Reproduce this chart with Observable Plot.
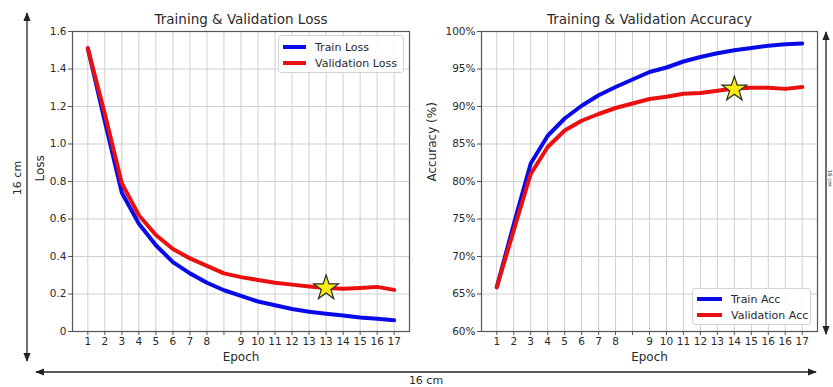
<!DOCTYPE html>
<html><head><meta charset="utf-8">
<script src="https://cdn.jsdelivr.net/npm/d3@7"></script>
<script src="https://cdn.jsdelivr.net/npm/@observablehq/plot@0.6"></script>
<style>
html,body{margin:0;padding:0;background:#fff;}
#wrap{position:relative;width:833px;height:387px;overflow:hidden;font-family:"DejaVu Sans",sans-serif;color:#2a2a2a;background:#fff;}
.plot{position:absolute;top:0;}
.legend{position:absolute;box-sizing:border-box;border:1px solid #d4d4d4;border-radius:3px;background:rgba(255,255,255,0.85);font-size:11px;color:#2a2a2a;}
.legend .row{position:absolute;left:0;height:16px;display:flex;align-items:center;white-space:nowrap;}
.legend .sw{display:inline-block;height:4px;margin-left:4px;margin-right:9px;}
#ann{position:absolute;left:0;top:0;pointer-events:none;}
</style></head><body><div id="wrap"></div>
<script>
// x positions (one per epoch tick) and tick labels as printed
const epochPos = [0,1,2,3,4,5,6,7,8,9,10,11,12,13,14,15,16,17,18];
const lossXLabels = ["1","2","3","4","5","6","7","8","","9","10","11","12","13","13","14","15","16","17"];
const accXLabels  = ["1","2","3","4","5","6","7","8","","9","10","11","12","13","14","15","16","16","17"];

// Loss series
const trainLoss = [1.51,1.12,0.74,0.575,0.46,0.37,0.31,0.26,0.22,0.19,0.16,0.14,0.12,0.105,0.095,0.085,0.075,0.068,0.06];
const valLoss   = [1.51,1.16,0.79,0.62,0.515,0.44,0.39,0.35,0.31,0.29,0.275,0.26,0.25,0.24,0.232,0.228,0.232,0.238,0.222];
const lossYTicks = [0,0.2,0.4,0.6,0.8,1.0,1.2,1.4,1.6];
const lossYLabels = ["0","0.2","0.4","0.6","0.8","1.0","1.2","1.4","1.6"];
const lossStar = {x: 14, y: 0.232};

// Accuracy series (%)
const trainAcc = [65.9,74.3,82.4,86.1,88.4,90.1,91.5,92.6,93.6,94.6,95.2,96.0,96.6,97.1,97.5,97.8,98.1,98.3,98.4];
const valAcc   = [65.9,73.5,81.0,84.6,86.8,88.1,89.0,89.8,90.4,91.0,91.3,91.7,91.8,92.1,92.4,92.5,92.5,92.35,92.6];
const accYTicks = [60,65,70,75,80,85,90,95,100];
const accYLabels = ["60%","65%","70%","75%","80%","85%","90%","95%","100%"];
const accStar = {x: 14, y: 92.3};

const lossSeries = ["Train Loss","Validation Loss"];
const accSeries = ["Train Acc","Validation Acc"];
const seriesColors = ["#0a0ae8","#ea1010"];

function chart({left, width, marginLeft, marginRight, yDomain, yTicks, yLabels, xLabels, train, val, star, title, yLabel, yLabelDx}) {
  const rows = arr => epochPos.map((p, i) => ({x: p, y: arr[i]}));
  const fmtY = d => yLabels[yTicks.indexOf(d)];
  const fmtX = d => xLabels[epochPos.indexOf(d)];
  const svg = Plot.plot({
    width, height: 387,
    marginTop: 31, marginBottom: 56, marginLeft, marginRight,
    style: {fontFamily: "DejaVu Sans, sans-serif", fontSize: "10.5px", color: "#2a2a2a", background: "transparent", overflow: "visible"},
    x: {domain: [-0.9, 18.9]},
    y: {domain: yDomain},
    marks: [
      Plot.gridX(epochPos, {stroke: "#cfcfcf", strokeOpacity: 1}),
      Plot.gridY(yTicks, {stroke: "#cfcfcf", strokeOpacity: 1}),
      Plot.axisX(epochPos, {tickFormat: fmtX, tickSize: 4, tickPadding: 2, label: null, stroke: "#555"}),
      Plot.axisY(yTicks, {tickFormat: fmtY, tickSize: 4, tickPadding: 2, label: null, stroke: "#555"}),
      Plot.line(rows(train), {x: "x", y: "y", stroke: seriesColors[0], strokeWidth: 4, strokeLinejoin: "round", strokeLinecap: "round"}),
      Plot.line(rows(val), {x: "x", y: "y", stroke: seriesColors[1], strokeWidth: 4, strokeLinejoin: "round", strokeLinecap: "round"}),
      Plot.dot([star], {x: "x", y: "y", symbol: "star", r: 7.8, fill: "#f8ec10", stroke: "#2a2a2a", strokeWidth: 1.2}),
      Plot.frame({stroke: "#555", strokeWidth: 1.2}),
      Plot.text([title], {frameAnchor: "top", dy: -12, lineAnchor: "middle", fontSize: 13.5, fill: "#2a2a2a"}),
      Plot.text([yLabel], {frameAnchor: "left", rotate: -90, dx: yLabelDx, lineAnchor: "middle", fontSize: 12, fill: "#2a2a2a"}),
      Plot.text(["Epoch"], {frameAnchor: "bottom", dy: 26, lineAnchor: "middle", fontSize: 12, fill: "#2a2a2a"})
    ]
  });
  svg.classList.add("plot");
  svg.style.left = left + "px";
  return svg;
}

function legend(names, box) {
  const div = document.createElement("div");
  div.className = "legend";
  Object.assign(div.style, {left: box.left + "px", top: box.top + "px", width: box.width + "px", height: box.height + "px"});
  names.forEach((n, i) => {
    const row = document.createElement("div");
    row.className = "row";
    row.style.top = (box.rowTop + i * 16 - 8) + "px";
    const sw = document.createElement("span");
    sw.className = "sw";
    sw.style.width = box.swatch + "px";
    sw.style.background = seriesColors[i];
    row.appendChild(sw);
    row.appendChild(document.createTextNode(n));
    div.appendChild(row);
  });
  return div;
}

const wrap = document.getElementById("wrap");
wrap.appendChild(chart({
  left: 0, width: 420, marginLeft: 72, marginRight: 11,
  yDomain: [0, 1.6], yTicks: lossYTicks, yLabels: lossYLabels, xLabels: lossXLabels,
  train: trainLoss, val: valLoss, star: lossStar,
  title: "Training & Validation Loss", yLabel: "Loss", yLabelDx: -32
}));
wrap.appendChild(chart({
  left: 416, width: 417, marginLeft: 65, marginRight: 16,
  yDomain: [60, 100], yTicks: accYTicks, yLabels: accYLabels, xLabels: accXLabels,
  train: trainAcc, val: valAcc, star: accStar,
  title: "Training & Validation Accuracy", yLabel: "Accuracy (%)", yLabelDx: -49
}));
wrap.appendChild(legend(lossSeries, {left: 278, top: 35, width: 126, height: 38, rowTop: 11, swatch: 23}));
wrap.appendChild(legend(accSeries, {left: 692, top: 288, width: 119, height: 37, rowTop: 10, swatch: 25}));

// dimension annotations (16 cm arrows)
const ann = d3.select(wrap).append("svg").attr("id", "ann").attr("width", 833).attr("height", 387);
const defs = ann.append("defs");
defs.append("marker").attr("id", "ah").attr("viewBox", "0 0 10 10").attr("refX", 9).attr("refY", 5)
  .attr("markerWidth", 7).attr("markerHeight", 7).attr("orient", "auto-start-reverse")
  .append("path").attr("d", "M0,1 L10,5 L0,9 Z").attr("fill", "#222");
const arrow = (x1, y1, x2, y2) => ann.append("line").attr("x1", x1).attr("y1", y1).attr("x2", x2).attr("y2", y2)
  .attr("stroke", "#222").attr("stroke-width", 1.3)
  .attr("marker-start", "url(#ah)").attr("marker-end", "url(#ah)");
arrow(27, 13, 27, 361);
arrow(36, 372, 816, 372);
arrow(826, 32, 826, 334);
const label = (x, y, rot, t, fs) => ann.append("text").attr("transform", `translate(${x},${y}) rotate(${rot})`)
  .attr("text-anchor", "middle").attr("dominant-baseline", "central")
  .attr("font-family", "DejaVu Sans, sans-serif").attr("font-size", fs).attr("fill", "#2a2a2a").text(t);
label(17, 178, -90, "16 cm", 11);
label(426, 380, 0, "16 cm", 11);
label(830.3, 178, 90, "16 cm", 5.5);
</script></body></html>
